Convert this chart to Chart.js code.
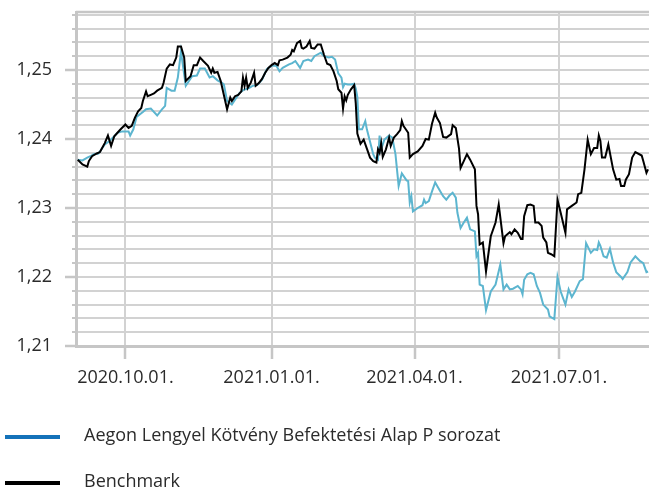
<!DOCTYPE html>
<html>
<head>
<meta charset="utf-8">
<script src="https://cdn.jsdelivr.net/npm/chart.js@4.4.1/dist/chart.umd.min.js"></script>
<style>
  html, body { margin: 0; padding: 0; background: #ffffff; }
  #wrap { width: 649px; height: 489px; position: relative; }
</style>
</head>
<body>
<div id="wrap"><canvas id="c" width="649" height="489"></canvas></div>
<script>
// Days counted from 2020-09-01
const tickDays = [30, 122, 212, 303];
const tickLabels = ['2020.10.01.', '2021.01.01.', '2021.04.01.', '2021.07.01.'];
const seriesNames = ['Aegon Lengyel Kötvény Befektetési Alap P sorozat', 'Benchmark'];

const fundDays = [0,3,6,8,10,13,14,17,20,23,25,28,32,33,35,37,41,43,46,50,53,55,56,59,61,63,65,66,68,72,75,77,80,83,85,88,91,92,94,97,99,102,105,106,108,110,113,116,119,122,125,127,129,133,135,137,140,142,145,147,149,153,155,158,160,162,164,166,167,168,170,172,174,175,176,177,179,181,182,184,186,187,189,190,191,193,196,198,200,202,204,207,208,209,210,211,214,217,218,219,221,223,225,227,230,232,234,236,238,239,241,243,245,247,250,251,252,253,255,257,260,263,266,268,270,272,274,277,279,280,281,283,285,287,289,291,293,296,297,300,302,304,307,309,311,313,316,318,320,323,325,327,328,329,331,333,335,337,339,342,343,346,348,351,354,356,358,359];
const fundValues = [1.2370,1.2369,1.2373,1.2375,1.2378,1.2379,1.2382,1.2392,1.2397,1.2404,1.2409,1.2411,1.2411,1.2405,1.2414,1.2432,1.2439,1.2443,1.2444,1.2434,1.2443,1.2448,1.2474,1.2470,1.2470,1.2489,1.2527,1.2510,1.2477,1.2491,1.2492,1.2502,1.2502,1.2489,1.2491,1.2485,1.2481,1.2479,1.2455,1.2450,1.2457,1.2467,1.2472,1.2472,1.2474,1.2477,1.2478,1.2486,1.2501,1.2506,1.2506,1.2498,1.2503,1.2508,1.2510,1.2513,1.2503,1.2513,1.2515,1.2513,1.2520,1.2525,1.2520,1.2518,1.2519,1.2515,1.2495,1.2489,1.2475,1.2480,1.2479,1.2479,1.2480,1.2473,1.2461,1.2414,1.2414,1.2426,1.2414,1.2396,1.2378,1.2373,1.2370,1.2405,1.2385,1.2399,1.2405,1.2402,1.2378,1.2332,1.2350,1.2340,1.2339,1.2308,1.2317,1.2295,1.2300,1.2304,1.2312,1.2307,1.2310,1.2324,1.2337,1.2329,1.2317,1.2312,1.2318,1.2322,1.2315,1.2293,1.2271,1.2279,1.2286,1.2269,1.2266,1.2230,1.2235,1.2189,1.2187,1.2152,1.2179,1.2189,1.2218,1.2182,1.2189,1.2182,1.2183,1.2187,1.2182,1.2175,1.2196,1.2204,1.2206,1.2204,1.2187,1.2177,1.2160,1.2153,1.2143,1.2139,1.2200,1.2179,1.2160,1.2182,1.2171,1.2179,1.2194,1.2197,1.2249,1.2235,1.2240,1.2239,1.2250,1.2245,1.2230,1.2228,1.2241,1.2221,1.2207,1.2200,1.2197,1.2207,1.2221,1.2230,1.2223,1.2220,1.2207,1.2208];

const benchDays = [0,3,6,7,9,12,14,17,19,21,23,25,27,30,32,34,36,38,40,41,43,44,46,48,50,53,54,56,58,60,62,63,65,67,68,71,73,75,77,79,82,84,85,86,88,90,94,96,97,99,101,103,104,105,106,107,109,111,112,114,116,118,120,122,124,126,127,129,132,134,135,136,138,140,141,142,144,146,147,149,151,153,155,157,159,161,163,164,166,167,168,169,170,172,174,175,176,178,180,182,184,186,188,189,190,191,192,194,196,197,199,201,203,204,205,208,209,211,214,217,219,221,223,225,226,228,230,232,235,236,238,240,241,243,245,247,250,251,252,253,255,257,260,263,265,268,269,271,272,273,275,277,279,280,281,283,285,287,288,290,292,293,295,296,298,300,302,304,307,308,311,314,315,317,319,321,323,325,327,328,329,330,332,334,337,339,341,342,344,345,347,349,351,355,356,358,359];
const benchValues = [1.2370,1.2363,1.2360,1.2368,1.2375,1.2379,1.2381,1.2394,1.2405,1.2390,1.2404,1.2409,1.2414,1.2421,1.2416,1.2419,1.2431,1.2440,1.2445,1.2455,1.2469,1.2462,1.2464,1.2466,1.2470,1.2474,1.2481,1.2502,1.2508,1.2507,1.2518,1.2534,1.2534,1.2518,1.2484,1.2491,1.2507,1.2507,1.2518,1.2513,1.2506,1.2496,1.2502,1.2496,1.2497,1.2484,1.2443,1.2460,1.2455,1.2462,1.2464,1.2469,1.2489,1.2477,1.2489,1.2474,1.2482,1.2496,1.2477,1.2481,1.2487,1.2496,1.2503,1.2507,1.2510,1.2507,1.2514,1.2515,1.2518,1.2522,1.2529,1.2527,1.2539,1.2542,1.2532,1.2531,1.2534,1.2542,1.2532,1.2531,1.2537,1.2537,1.2522,1.2509,1.2507,1.2498,1.2484,1.2472,1.2467,1.2444,1.2462,1.2456,1.2464,1.2472,1.2478,1.2452,1.2408,1.2393,1.2399,1.2386,1.2373,1.2368,1.2366,1.2385,1.2380,1.2394,1.2374,1.2385,1.2402,1.2390,1.2402,1.2407,1.2413,1.2426,1.2419,1.2409,1.2373,1.2378,1.2382,1.2390,1.2400,1.2399,1.2422,1.2438,1.2431,1.2423,1.2403,1.2402,1.2407,1.2420,1.2416,1.2386,1.2358,1.2368,1.2378,1.2370,1.2356,1.2303,1.2291,1.2247,1.2250,1.2208,1.2259,1.2279,1.2305,1.2249,1.2259,1.2263,1.2265,1.2262,1.2269,1.2264,1.2255,1.2255,1.2288,1.2304,1.2305,1.2303,1.2279,1.2279,1.2274,1.2257,1.2250,1.2235,1.2233,1.2230,1.2312,1.2293,1.2264,1.2298,1.2303,1.2308,1.2320,1.2322,1.2356,1.2399,1.2378,1.2387,1.2387,1.2405,1.2397,1.2373,1.2373,1.2392,1.2356,1.2341,1.2342,1.2332,1.2332,1.2341,1.2349,1.2373,1.2381,1.2376,1.2368,1.2351,1.2356];

const yMin = 1.21, yMax = 1.2584, yStep = 0.002;

const FONT = "'Open Sans', 'Noto Sans', sans-serif";
const TEXT = '#2b2b2b';
const GRID = '#d2d2d2';
const AXIS = '#c6c6c6';
const FUND_LINE = '#5cb5cf';
const FUND_KEY = '#1472b9';
const BENCH = '#000000';

function isMajor(v) { return Math.abs(v * 100 - Math.round(v * 100)) < 1e-6; }

const extras = {
  id: 'extras',
  afterDraw(chart) {
    const ctx = chart.ctx;
    const a = chart.chartArea;
    const y = chart.scales.y;
    ctx.save();
    // top border
    ctx.strokeStyle = AXIS;
    ctx.lineWidth = 2.5;
    ctx.beginPath();
    ctx.moveTo(a.left, a.top);
    ctx.lineTo(a.right, a.top);
    ctx.stroke();
    // minor ticks on y axis
    ctx.strokeStyle = AXIS;
    ctx.lineWidth = 2;
    y.ticks.forEach(t => {
      if (!isMajor(t.value)) {
        const py = Math.round(y.getPixelForValue(t.value));
        ctx.beginPath();
        ctx.moveTo(a.left - 4, py);
        ctx.lineTo(a.left, py);
        ctx.stroke();
      }
    });
    // legend
    const keys = [FUND_KEY, BENCH];
    const baselines = [441, 487];
    ctx.font = '18px ' + FONT;
    ctx.textBaseline = 'alphabetic';
    ctx.textAlign = 'left';
    seriesNames.forEach((name, i) => {
      ctx.fillStyle = keys[i];
      ctx.fillRect(5, baselines[i] - 6, 55, 4);
      ctx.fillStyle = TEXT;
      ctx.fillText(name, 84, baselines[i]);
    });
    ctx.restore();
  }
};

new Chart(document.getElementById('c'), {
  type: 'line',
  data: {
    datasets: [
      {
        label: seriesNames[0],
        data: fundDays.map((d, i) => ({ x: d, y: fundValues[i] })),
        borderColor: FUND_LINE,
        backgroundColor: FUND_KEY,
        borderWidth: 2,
        pointRadius: 0,
        tension: 0,
        order: 2
      },
      {
        label: seriesNames[1],
        data: benchDays.map((d, i) => ({ x: d, y: benchValues[i] })),
        borderColor: BENCH,
        backgroundColor: BENCH,
        borderWidth: 2,
        pointRadius: 0,
        tension: 0,
        order: 1
      }
    ]
  },
  options: {
    responsive: false,
    maintainAspectRatio: false,
    animation: false,
    layout: { padding: { top: 12, left: 0, right: 0, bottom: 0 } },
    plugins: { legend: { display: false }, tooltip: { enabled: false } },
    scales: {
      x: {
        type: 'linear',
        min: -1.1,
        max: 359.6,
        afterBuildTicks: s => { s.ticks = tickDays.map(v => ({ value: v })); },
        afterFit: s => { s.height = 143; s.paddingLeft = 0; s.paddingRight = 0; },
        ticks: {
          autoSkip: false,
          maxRotation: 0,
          padding: 8,
          color: TEXT,
          font: { family: FONT, size: 18 },
          callback: (v, i) => tickLabels[i]
        },
        grid: { color: GRID, lineWidth: 2, tickLength: 13, tickColor: AXIS, tickWidth: 2.5 },
        border: { color: AXIS, width: 3 }
      },
      y: {
        min: yMin,
        max: yMax,
        afterBuildTicks: s => {
          const t = [];
          for (let k = 0; yMin + k * yStep <= 1.2581; k++) t.push({ value: +(yMin + k * yStep).toFixed(4) });
          s.ticks = t;
        },
        afterFit: s => { s.width = 76; s.paddingTop = 0; s.paddingBottom = 0; },
        ticks: {
          autoSkip: false,
          padding: 13,
          color: TEXT,
          font: { family: FONT, size: 18 },
          callback: v => isMajor(v) ? v.toFixed(2).replace('.', ',') : ''
        },
        grid: {
          color: GRID,
          lineWidth: 2,
          tickLength: 11,
          tickWidth: 2.5,
          tickColor: c => (c.tick && isMajor(c.tick.value)) ? AXIS : 'rgba(0,0,0,0)'
        },
        border: { color: AXIS, width: 3 }
      }
    }
  },
  plugins: [extras]
});
</script>
</body>
</html>
